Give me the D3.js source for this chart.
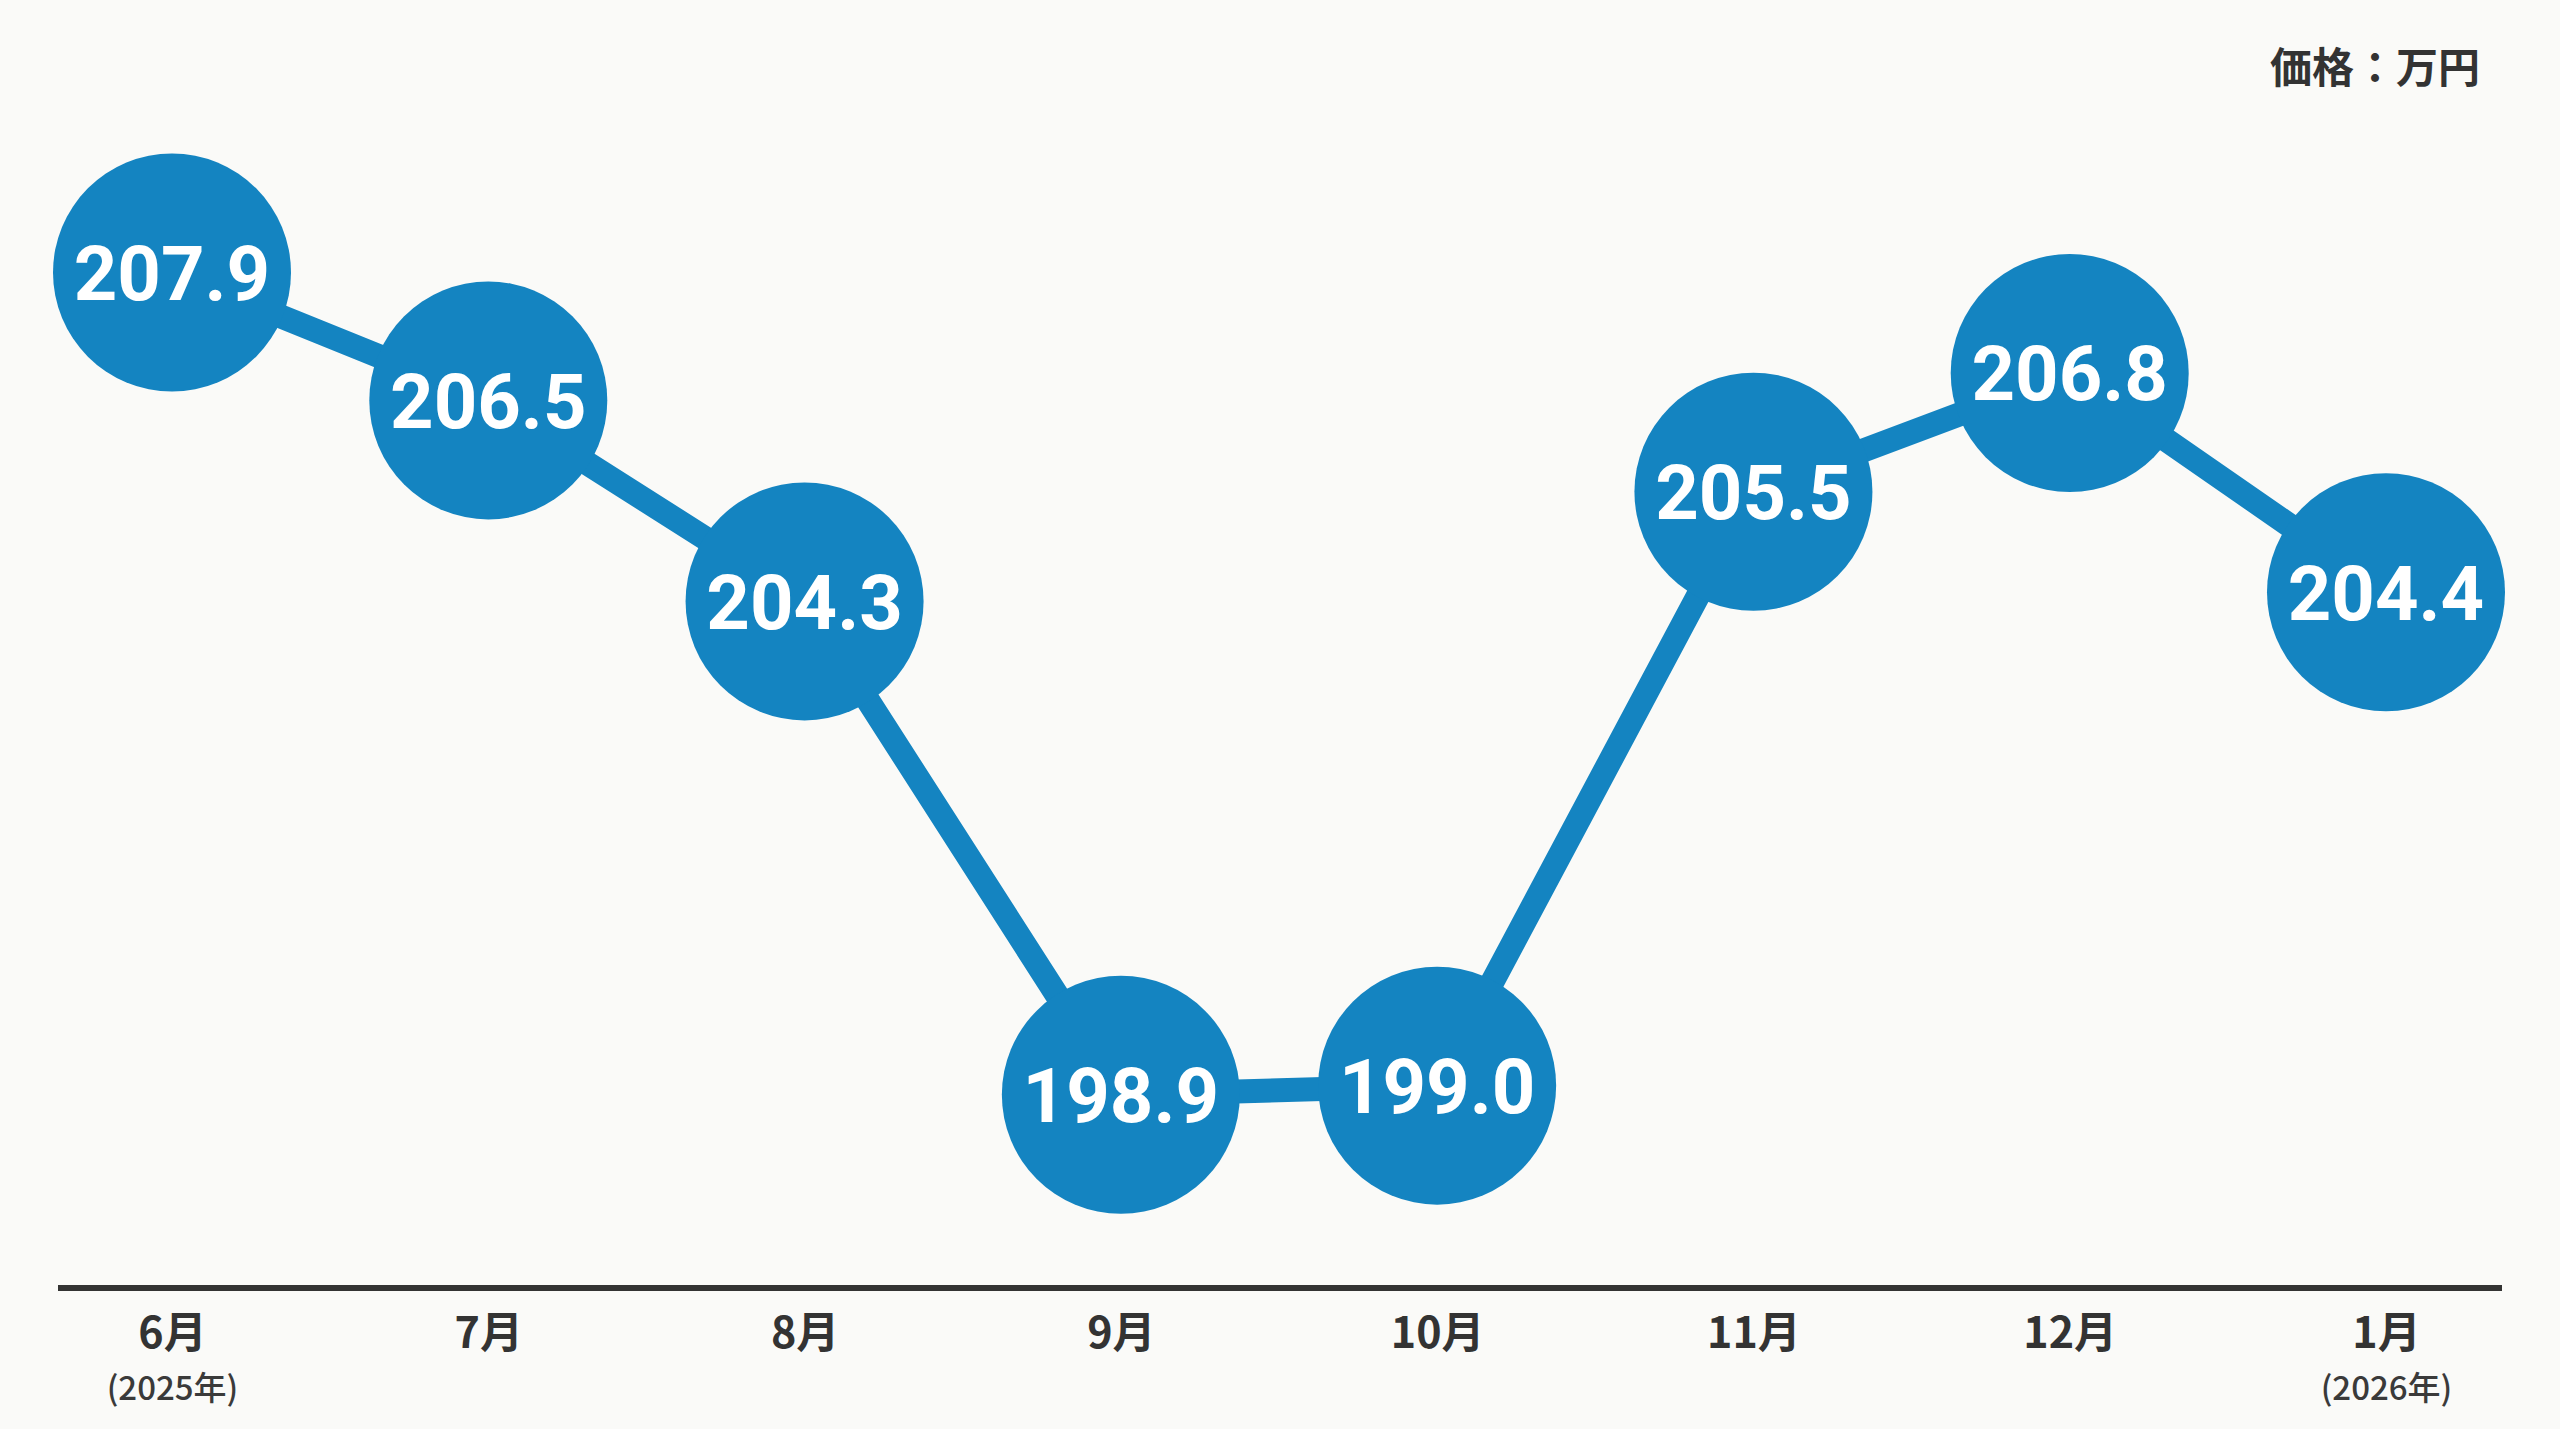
<!DOCTYPE html>
<html>
<head>
<meta charset="utf-8">
<script src="https://cdn.jsdelivr.net/npm/d3@7"></script>
<style>
  html, body { margin: 0; padding: 0; background: #fafaf8; }
  svg { display: block; }
</style>
</head>
<body>
<svg id="chart" width="2560" height="1429"></svg>
<script>
// ---- data ----
const months = ["6月", "7月", "8月", "9月", "10月", "11月", "12月", "1月"];
const yearNotes = ["(2025年)", "", "", "", "", "", "", "(2026年)"];
const prices = [207.9, 206.5, 204.3, 198.9, 199.0, 205.5, 206.8, 204.4];
const unitLabel = "価格：万円";

// ---- layout ----
const W = 2560, H = 1429;
const blue = "#1484c1";
const svg = d3.select("#chart");
svg.append("rect").attr("width", W).attr("height", H).attr("fill", "#fafaf8");

const x = d3.scalePoint().domain(months).range([172, 2386]);
const y = d3.scaleLinear().domain([198, 209]).range([1177, 172]);

const data = months.map((m, i) => ({ m, v: prices[i] }));

// axis baseline
const axisY = 1288;
const xAxis = d3.axisBottom(x).tickSize(0).tickFormat("");
const gAxis = svg.append("g").attr("transform", `translate(0,${axisY})`).call(xAxis);
gAxis.select(".domain").remove();
gAxis.append("line")
  .attr("x1", 58).attr("x2", 2502)
  .attr("stroke", "#333").attr("stroke-width", 6);

// month labels and year notes
gAxis.selectAll(".tick").each(function(d, i) {
  const t = d3.select(this);
  t.select("text").remove();
  t.append("text")
    .attr("y", 60)
    .attr("text-anchor", "middle")
    .attr("font-family", "'Noto Sans CJK JP', 'Noto Sans', sans-serif")
    .attr("font-weight", 700)
    .attr("font-size", 43)
    .attr("fill", "#333")
    .text(d);
  if (yearNotes[i]) {
    t.append("text")
      .attr("y", 112)
      .attr("text-anchor", "middle")
      .attr("font-family", "'Noto Sans CJK JP', 'Noto Sans', sans-serif")
      .attr("font-weight", 500)
      .attr("font-size", 33)
      .attr("fill", "#3a3a3a")
      .text(yearNotes[i]);
  }
});

// connecting line
const line = d3.line().x(d => x(d.m)).y(d => y(d.v));
svg.append("path")
  .datum(data)
  .attr("d", line)
  .attr("fill", "none")
  .attr("stroke", blue)
  .attr("stroke-width", 24)
  .attr("stroke-linejoin", "round");

// circles
const pts = svg.append("g").selectAll("g").data(data).join("g")
  .attr("transform", d => `translate(${x(d.m)},${y(d.v)})`);
pts.append("circle")
  .attr("r", 119)
  .attr("fill", blue);
pts.append("text")
  .attr("text-anchor", "middle")
  .attr("dy", "0.36em")
  .attr("font-family", "Roboto, 'Noto Sans', sans-serif")
  .attr("font-weight", 700)
  .attr("font-size", 76)
  .attr("fill", "#ffffff")
  .text(d => d.v.toFixed(1));

// unit label
svg.append("text")
  .attr("x", 2480).attr("y", 83)
  .attr("text-anchor", "end")
  .attr("font-family", "'Noto Sans CJK JP', sans-serif")
  .attr("font-weight", 700)
  .attr("font-size", 42)
  .attr("fill", "#333")
  .text(unitLabel);
</script>
</body>
</html>
